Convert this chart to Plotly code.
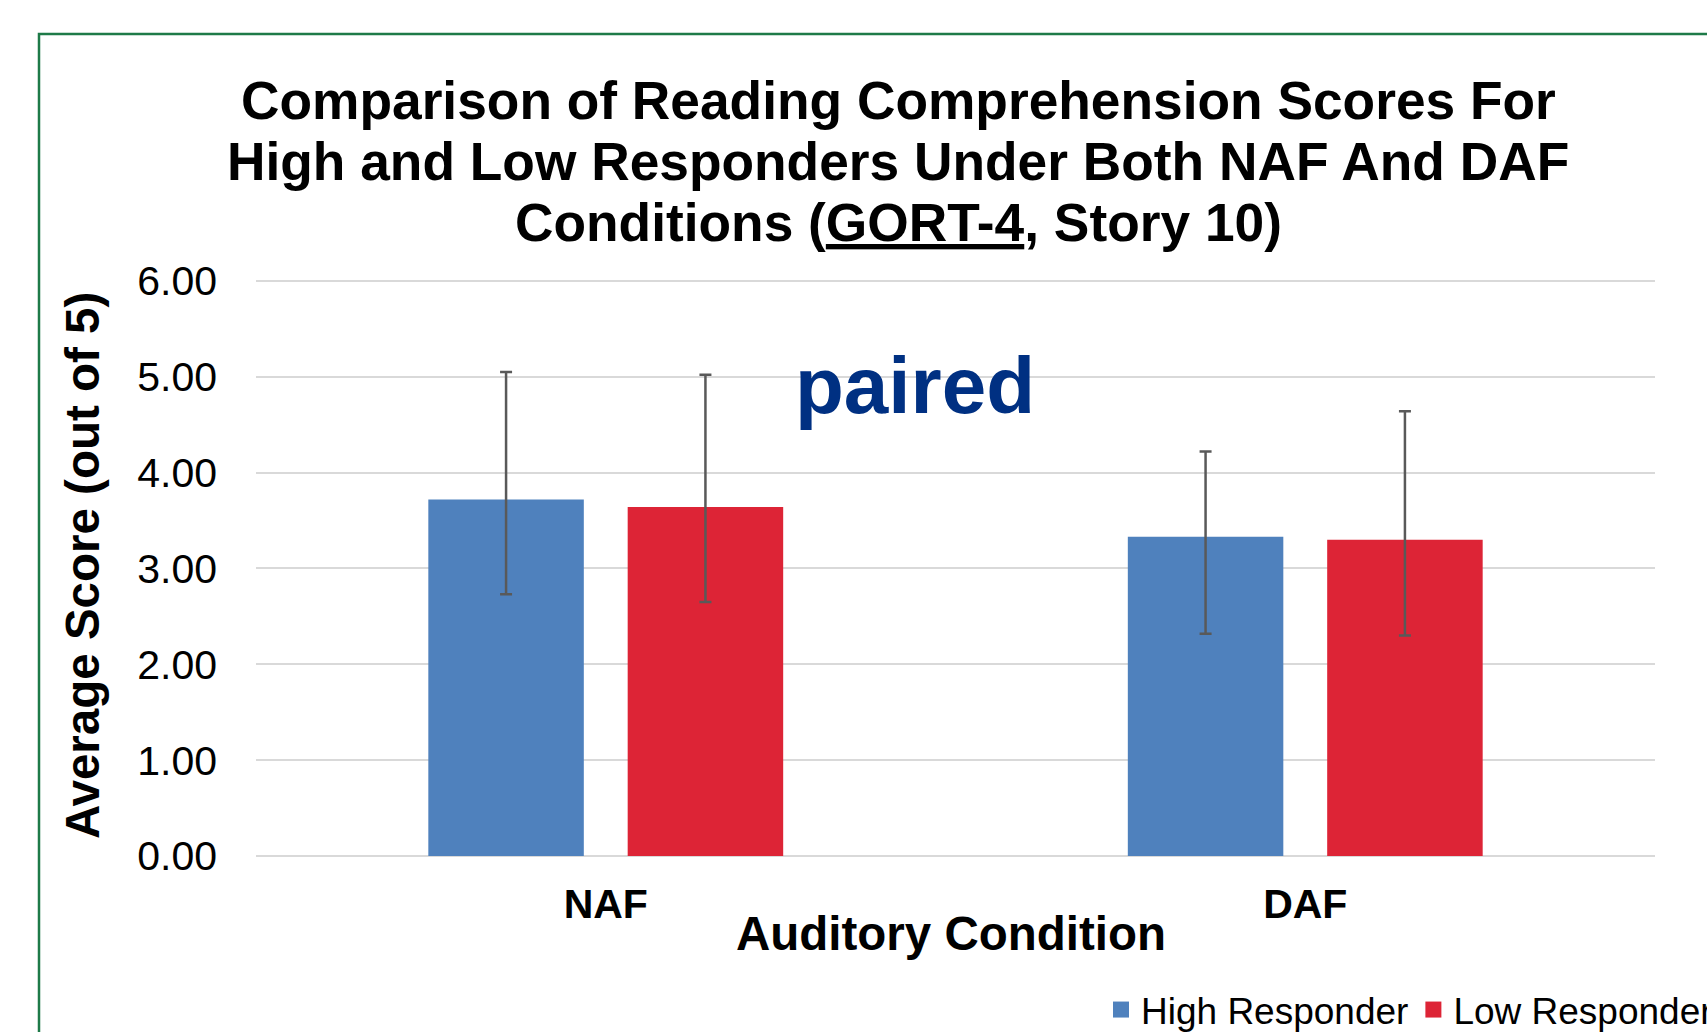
import plotly.graph_objects as go

# ---- data ----
conditions = ["NAF", "DAF"]
series_names = ["High Responder", "Low Responder"]
high_mean = [3.72, 3.33]
high_err_plus = [1.33, 0.89]
high_err_minus = [0.99, 1.01]
low_mean = [3.64, 3.30]
low_err_plus = [1.38, 1.34]
low_err_minus = [0.99, 1.00]
y_ticks = [0, 1, 2, 3, 4, 5, 6]
y_tick_labels = ["0.00", "1.00", "2.00", "3.00", "4.00", "5.00", "6.00"]
title_lines = [
    "Comparison of Reading Comprehension Scores For",
    "High and Low Responders Under Both NAF And DAF",
    "Conditions (<u>GORT-4</u>, Story 10)",
]

FONT = "Liberation Sans, Arial, sans-serif"
BLUE = "#4F81BD"
RED = "#DD2436"
ERR = "#595959"

W, H = 1707, 1032
L, R, T, B = 256, 52, 279, 176
PW, PH = W - L - R, H - T - B


def px_x(px):
    return (px - L) / PW


def px_y(py):
    return (H - B - py) / PH


fig = go.Figure()
for name, mean, ep, em, color in [
    (series_names[0], high_mean, high_err_plus, high_err_minus, BLUE),
    (series_names[1], low_mean, low_err_plus, low_err_minus, RED),
]:
    fig.add_trace(go.Bar(
        x=conditions, y=mean, name=name, marker_color=color,
        marker_line_width=0, showlegend=False, legendgroup=name,
        error_y=dict(type="data", symmetric=False, array=ep, arrayminus=em,
                     color=ERR, thickness=2.5, width=6),
    ))
    fig.add_trace(go.Scatter(
        x=[None], y=[None], mode="markers", name=name, legendgroup=name,
        marker=dict(symbol="square", size=16, color=color), showlegend=True,
    ))

annotations = []
for i, (line, py) in enumerate(zip(title_lines, [100.5, 161.5, 222.5])):
    annotations.append(dict(
        text="<b>" + line + "</b>", xref="paper", yref="paper",
        x=px_x(898), y=px_y(py), xanchor="center", yanchor="middle",
        showarrow=False, font=dict(family=FONT, size=53.3, color="black"),
    ))
annotations.append(dict(
    text="<b>paired</b>", xref="paper", yref="paper",
    x=px_x(915), y=px_y(385), xanchor="center", yanchor="middle",
    showarrow=False, font=dict(family=FONT, size=80, color="#003082"),
))
annotations.append(dict(
    text="<b>Auditory Condition</b>", xref="paper", yref="paper",
    x=px_x(951), y=px_y(933), xanchor="center", yanchor="middle",
    showarrow=False, font=dict(family=FONT, size=47.5, color="black"),
))
annotations.append(dict(
    text="<b>Average Score (out of 5)</b>", xref="paper", yref="paper",
    x=px_x(82), y=px_y(566), xanchor="center", yanchor="middle", textangle=-90,
    showarrow=False, font=dict(family=FONT, size=47.5, color="black"),
))

fig.update_layout(
    width=W, height=H,
    margin=dict(l=L, r=R, t=T, b=B, autoexpand=False),
    paper_bgcolor="white", plot_bgcolor="white",
    barmode="group", bargap=0.43, bargroupgap=0.22,
    font=dict(family=FONT, color="black"),
    annotations=annotations,
    legend=dict(
        orientation="h", x=px_x(1101), y=px_y(1010), xanchor="left", yanchor="middle",
        font=dict(family=FONT, size=37, color="black"), bgcolor="rgba(0,0,0,0)",
    ),
    shapes=[dict(
        type="rect", xref="paper", yref="paper",
        x0=px_x(39), y0=px_y(34), x1=px_x(1800), y1=px_y(1120),
        line=dict(color="#1E7A48", width=2.5), fillcolor="rgba(0,0,0,0)", layer="below",
    )],
)
fig.update_xaxes(
    showgrid=False, showline=False, zeroline=False,
    tickfont=dict(family=FONT, size=41, color="black", weight="bold"),
    ticklabelstandoff=20,
)
fig.update_yaxes(
    range=[0, 6.02], tickvals=y_ticks, ticktext=y_tick_labels,
    showgrid=True, gridcolor="#D9D9D9", gridwidth=2,
    zeroline=True, zerolinecolor="#D9D9D9", zerolinewidth=2,
    showline=False, ticks="",
    tickfont=dict(family=FONT, size=41, color="black"),
    ticklabelstandoff=38,
)
fig.write_html(
    "out.html",
    config={"displayModeBar": False},
    post_script="document.body.style.margin='0';document.body.style.overflow='hidden';",
)
